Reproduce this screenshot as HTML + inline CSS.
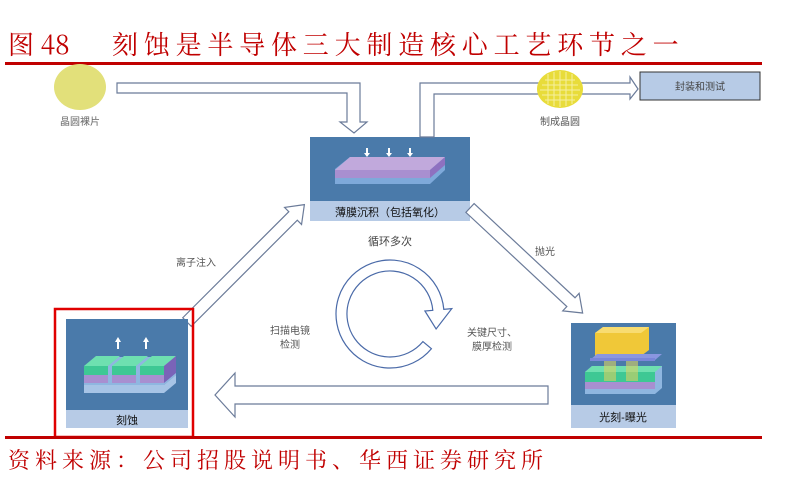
<!DOCTYPE html>
<html><head><meta charset="utf-8"><style>
html,body{margin:0;padding:0;background:#fff;}
svg{display:block;}
.t{font-family:"Liberation Sans","Noto Sans CJK SC",sans-serif;}
</style></head><body>
<svg width="791" height="488" viewBox="0 0 791 488" xmlns="http://www.w3.org/2000/svg" class="t">
<text x="8" y="54" font-family="'Noto Serif CJK SC',serif" font-size="26" fill="#c00000">图 48</text>
<text x="112" y="54" font-family="'Noto Serif CJK SC',serif" font-size="26" fill="#c00000" letter-spacing="5.8">刻蚀是半导体三大制造核心工艺环节之一</text>
<rect x="5" y="62" width="757" height="3" fill="#c00000"/>

<ellipse cx="80" cy="87" rx="26" ry="23" fill="#e2e07a"/>
<text x="80" y="125" font-size="10" fill="#666" text-anchor="middle">晶圆裸片</text>
<polygon points="117,83 360,83 360,122 367,122 354,133 340,122 347,122 347,93 117,93" fill="#fff" stroke="#6b7b99" stroke-width="1.2"/>

<rect x="310" y="137" width="160" height="84" fill="#4a7aaa"/>
<rect x="310" y="201" width="160" height="20" fill="#b7cbe6"/>
<polygon points="335,169 350,157 445,157 445,170 430,184 335,184" fill="#7ea9da"/>
<polygon points="335,170 350,157 445,157 430,170" fill="#c1a9dc"/>
<polygon points="335,170 430,170 430,178 335,178" fill="#a88fd0"/>
<polygon points="430,170 445,157 445,165 430,178" fill="#8e71c0"/>
<g fill="#fff"><rect x="366" y="148" width="2" height="6"/><polygon points="364,153 370,153 367,157"/><rect x="388" y="148" width="2" height="6"/><polygon points="386,153 392,153 389,157"/><rect x="409" y="148" width="2" height="6"/><polygon points="407,153 413,153 410,157"/></g>
<text x="390" y="216" font-size="11" fill="#111" text-anchor="middle">薄膜沉积（包括氧化）</text>

<polygon points="420,137 420,83 630,83 630,77 638,89 630,99 630,94 434,94 434,137" fill="#fff" stroke="#6b7b99" stroke-width="1.2"/>
<ellipse cx="560" cy="89" rx="23" ry="19" fill="#e8dc3a"/>
<g stroke="#f6f0a0" stroke-width="1">
<line x1="545" y1="80" x2="575" y2="80"/><line x1="542" y1="85" x2="578" y2="85"/><line x1="540" y1="90" x2="580" y2="90"/><line x1="542" y1="95" x2="578" y2="95"/><line x1="545" y1="100" x2="575" y2="100"/>
<line x1="548" y1="74" x2="548" y2="104"/><line x1="554" y1="72" x2="554" y2="106"/><line x1="560" y1="71" x2="560" y2="107"/><line x1="566" y1="72" x2="566" y2="106"/><line x1="572" y1="74" x2="572" y2="104"/>
</g>
<text x="560" y="125" font-size="10" fill="#555" text-anchor="middle">制成晶圆</text>
<rect x="640" y="72" width="120" height="28" fill="#b7cbe6" stroke="#333" stroke-width="1"/>
<text x="700" y="90" font-size="10" fill="#444" text-anchor="middle">封装和测试</text>

<g transform="translate(187,322) rotate(-45)">
<polygon points="0,-6 150,-6 150,-12 166,0 150,12 150,6 0,6" fill="#fff" stroke="#6b7b99" stroke-width="1.2"/>
</g>
<text x="196" y="266" font-size="10" fill="#555" text-anchor="middle">离子注入</text>
<g transform="translate(470,208) rotate(43)">
<polygon points="0,-6 138,-6 138,-12 154,0 138,12 138,6 0,6" fill="#fff" stroke="#6b7b99" stroke-width="1.2"/>
</g>
<text x="545" y="255" font-size="10" fill="#555" text-anchor="middle">抛光</text>

<text x="390" y="245" font-size="11" fill="#444" text-anchor="middle">循环多次</text>
<path d="M431.4,348.7 A54,54 0 1 1 443.8,309.3 L451.8,308.6 L436.1,329 L424.9,311 L432.8,310.3 A43,43 0 1 0 422.9,341.6 Z" fill="#fff" stroke="#4a6aa8" stroke-width="1.2"/>
<text x="290" y="334" font-size="10" fill="#555" text-anchor="middle">扫描电镜</text>
<text x="290" y="348" font-size="10" fill="#555" text-anchor="middle">检测</text>
<text x="492" y="336" font-size="10" fill="#555" text-anchor="middle">关键尺寸、</text>
<text x="492" y="350" font-size="10" fill="#555" text-anchor="middle">膜厚检测</text>

<polygon points="548,386 235,386 235,373 215,395 235,417 235,404 548,404" fill="#fff" stroke="#6b7b99" stroke-width="1.2"/>

<rect x="66" y="319" width="122" height="109" fill="#4a7aaa"/>
<rect x="66" y="410" width="122" height="18" fill="#b7cbe6"/>
<polygon points="84,367 96,357 176,357 176,375 164,385 84,385" fill="#8fb6e0"/>
<polygon points="84,385 164,385 176,375 176,383 164,393 84,393" fill="#a7c4e6"/>
<g>
<polygon points="84,366 96,356 120,356 108,366" fill="#6ee0b0"/><rect x="84" y="366" width="24" height="9" fill="#3ec894"/><rect x="84" y="375" width="24" height="8" fill="#a88fd0"/>
<polygon points="112,366 124,356 148,356 136,366" fill="#6ee0b0"/><rect x="112" y="366" width="24" height="9" fill="#3ec894"/><rect x="112" y="375" width="24" height="8" fill="#a88fd0"/>
<polygon points="140,366 152,356 176,356 164,366" fill="#6ee0b0"/><rect x="140" y="366" width="24" height="9" fill="#3ec894"/><rect x="140" y="375" width="24" height="8" fill="#a88fd0"/>
<polygon points="164,366 176,356 176,373 164,383" fill="#7a64b8"/>
</g>
<g fill="#fff"><rect x="117" y="341" width="2" height="8"/><polygon points="115,342 121,342 118,337"/><rect x="145" y="341" width="2" height="8"/><polygon points="143,342 149,342 146,337"/></g>
<text x="127" y="424" font-size="11" fill="#111" text-anchor="middle">刻蚀</text>
<rect x="55" y="309" width="138" height="128" fill="none" stroke="#e00000" stroke-width="2.5"/>

<rect x="571" y="323" width="105" height="105" fill="#4a7aaa"/>
<rect x="571" y="405" width="105" height="23" fill="#b7cbe6"/>
<polygon points="585,372 592,366 662,366 662,388 655,394 585,394" fill="#8fb6e0"/>
<rect x="585" y="372" width="70" height="10" fill="#3ec894"/>
<rect x="585" y="382" width="70" height="7" fill="#a88fd0"/>
<polygon points="585,372 592,366 662,366 655,372" fill="#6ee0b0"/>
<polygon points="595,333 603,327 649,327 649,350 641,356 595,356" fill="#f0c838"/>
<polygon points="595,333 603,327 649,327 641,333" fill="#f8dc70"/>
<polygon points="590,360 597,354 662,354 655,360" fill="#8a96e0"/>
<rect x="590" y="358" width="65" height="3" fill="#7a86d8"/>
<rect x="604" y="361" width="12" height="20" fill="#d8d060" opacity="0.6"/>
<rect x="626" y="361" width="12" height="20" fill="#d8d060" opacity="0.6"/>
<text x="623" y="421" font-size="11" fill="#111" text-anchor="middle">光刻-曝光</text>

<rect x="5" y="436" width="757" height="3" fill="#c00000"/>
<text x="8" y="468" font-family="'Noto Serif CJK SC',serif" font-size="22" fill="#c00000" letter-spacing="5">资料来源：公司招股说明书、华西证券研究所</text>
</svg>
</body></html>
